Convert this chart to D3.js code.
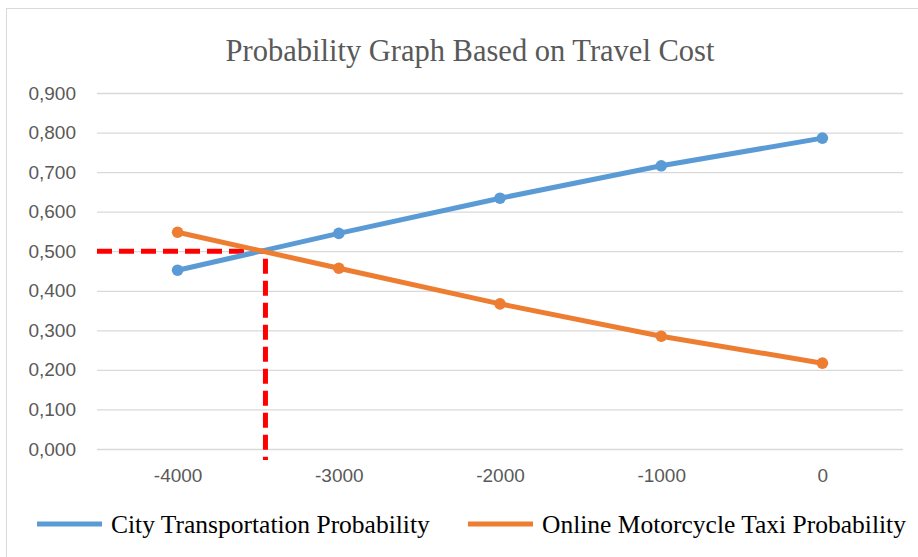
<!doctype html>
<html>
<head>
<script src="https://d3js.org/d3.v7.min.js"></script>
<style>
  body { margin: 0; background: #fff; }
  svg { display: block; }
</style>
</head>
<body>
<svg></svg>
<script>
// data
var costs = [-4000, -3000, -2000, -1000, 0];
var cityProb = [0.452, 0.545, 0.634, 0.716, 0.786];
var taxiProb = [0.548, 0.457, 0.367, 0.285, 0.217];
var yTicks = [0, 0.1, 0.2, 0.3, 0.4, 0.5, 0.6, 0.7, 0.8, 0.9];
var seriesNames = ["City Transportation Probability", "Online Motorcycle Taxi Probability"];
var breakEvenCost = -3455;
var breakEvenProb = 0.5;

var W = 918, H = 557;
var LEFT = 97, RIGHT = 903, TOP = 93, BOTTOM = 449;
var BLUE = "#5B9BD5", ORANGE = "#ED7D31";

var svg = d3.select("svg").attr("width", W).attr("height", H);

// chart frame
svg.append("rect")
  .attr("x", 6.5).attr("y", 8.5)
  .attr("width", W).attr("height", H)
  .attr("fill", "none").attr("stroke", "#D9D9D9");

svg.append("text")
  .attr("x", 470).attr("y", 61)
  .attr("text-anchor", "middle")
  .attr("font-family", "'Liberation Serif', 'Times New Roman', serif")
  .attr("font-size", 30.5)
  .attr("fill", "#595959")
  .text("Probability Graph Based on Travel Cost");

var x = d3.scalePoint().domain(costs).range([LEFT, RIGHT]).padding(0.5);
// numeric scale for the break-even marker, aligned to the category centres
var xLin = d3.scaleLinear().domain([costs[0], costs[costs.length - 1]])
  .range([x(costs[0]), x(costs[costs.length - 1])]);
var y = d3.scaleLinear().domain([0, 0.9]).range([BOTTOM, TOP]);

// gridlines + y labels
var yAxis = d3.axisLeft(y).tickValues(yTicks)
  .tickSize(-(RIGHT - LEFT)).tickPadding(21)
  .tickFormat(function(d) { return d3.format(".3f")(d).replace(".", ","); });

var gy = svg.append("g").attr("transform", "translate(" + LEFT + ",0)").call(yAxis);
gy.select(".domain").remove();
gy.selectAll(".tick line").attr("stroke", "#D9D9D9").attr("stroke-width", 1.3);
gy.selectAll(".tick text")
  .attr("font-family", "'Liberation Sans', Arial, sans-serif")
  .attr("font-size", 19).attr("fill", "#595959");

var xAxis = d3.axisBottom(x).tickSize(0).tickPadding(20);
var gx = svg.append("g").attr("transform", "translate(0," + BOTTOM + ")").call(xAxis);
gx.select(".domain").remove();
gx.selectAll(".tick text")
  .attr("font-family", "'Liberation Sans', Arial, sans-serif")
  .attr("font-size", 19).attr("fill", "#595959");

// red dashed guide
var guide = [
  [LEFT, y(breakEvenProb)],
  [xLin(breakEvenCost), y(breakEvenProb)],
  [xLin(breakEvenCost), BOTTOM + 11]
];
svg.append("path")
  .attr("d", d3.line()(guide))
  .attr("fill", "none").attr("stroke", "#FF0000")
  .attr("stroke-width", 5).attr("stroke-dasharray", "15,7");

var series = [
  { name: seriesNames[0], values: cityProb, color: BLUE },
  { name: seriesNames[1], values: taxiProb, color: ORANGE }
];

var line = d3.line()
  .x(function(d, i) { return x(costs[i]); })
  .y(function(d) { return y(d); });

series.forEach(function(s) {
  svg.append("path")
    .attr("d", line(s.values))
    .attr("fill", "none").attr("stroke", s.color)
    .attr("stroke-width", 5).attr("stroke-linecap", "round");
  svg.append("g").selectAll("circle").data(s.values).enter().append("circle")
    .attr("cx", function(d, i) { return x(costs[i]); })
    .attr("cy", function(d) { return y(d); })
    .attr("r", 5.8).attr("fill", s.color);
});

// legend
var legendX = [37, 468];
var lg = svg.append("g").selectAll("g").data(series).enter().append("g")
  .attr("transform", function(d, i) { return "translate(" + legendX[i] + ",524)"; });
lg.append("line").attr("x1", 0).attr("x2", 65)
  .attr("stroke", function(d) { return d.color; }).attr("stroke-width", 5);
lg.append("text").attr("x", 74).attr("y", 9)
  .attr("font-family", "'Liberation Serif', 'Times New Roman', serif")
  .attr("font-size", 25.5).attr("fill", "#000")
  .text(function(d) { return d.name; });
</script>
</body>
</html>
